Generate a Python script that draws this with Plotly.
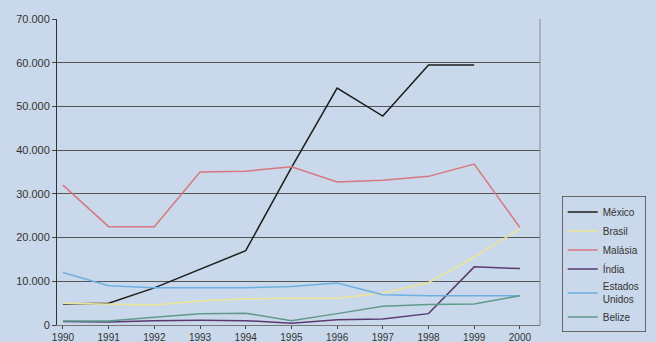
import plotly.graph_objects as go

years = [1990, 1991, 1992, 1993, 1994, 1995, 1996, 1997, 1998, 1999, 2000]
mexico = [4800, 5000, 8500, 12700, 17000, 36000, 54200, 47800, 59500, 59500, None]
brasil = [5000, 4800, 4600, 5500, 6000, 6100, 6100, 7300, 9700, 15500, 22000]
malasia = [32000, 22500, 22500, 35000, 35200, 36200, 32700, 33100, 34000, 36800, 22300]
india = [800, 700, 1000, 1100, 1000, 400, 1200, 1400, 2600, 13300, 12900]
eua = [12000, 9000, 8500, 8500, 8500, 8800, 9600, 6900, 6700, 6700, 6700]
belize = [900, 900, 1800, 2600, 2700, 1000, 2600, 4300, 4700, 4800, 6700]
y_ticks = [0, 10000, 20000, 30000, 40000, 50000, 60000, 70000]
y_labels = ["0", "10.000", "20.000", "30.000", "40.000", "50.000", "60.000", "70.000"]

series = [
    ("México", mexico, "#1e1e1e"),
    ("Brasil", brasil, "#ece596"),
    ("Malásia", malasia, "#d8787e"),
    ("Índia", india, "#5a3a6e"),
    ("Estados<br>Unidos", eua, "#6eb0e2"),
    ("Belize", belize, "#5f9a8c"),
]

fig = go.Figure()
for name, vals, col in series:
    fig.add_trace(go.Scatter(x=years, y=vals, name=name, mode="lines",
                             line=dict(color=col, width=1.5)))

fig.update_layout(
    width=656, height=342,
    margin=dict(l=57, r=116, t=19, b=17, autoexpand=False),
    paper_bgcolor="#c9d8ea",
    plot_bgcolor="#c9d8ea",
    font=dict(family="Liberation Sans, Arial", size=10, color="#333"),
    showlegend=True,
    legend=dict(x=1.045, y=0.42, xanchor="left", yanchor="top",
                bgcolor="#c9d8ea", bordercolor="#666", borderwidth=1,
                itemwidth=30,
                font=dict(size=10, color="#333"), tracegroupgap=0),
    xaxis=dict(range=[1989.87, 2000.44], tickvals=years,
               ticktext=[str(y) for y in years], showgrid=False,
               ticks="outside", ticklen=3, tickcolor="#444",
               showline=True, linecolor="#777", mirror=False, automargin=False,
               tickfont=dict(size=10, color="#333"), zeroline=False),
    yaxis=dict(range=[0, 70000], tickvals=y_ticks, ticktext=y_labels,
               showgrid=True, gridcolor="#555", gridwidth=1,
               ticks="outside", ticklen=4, tickcolor="#444", automargin=False,
               showline=True, linecolor="#333", zeroline=False,
               tickfont=dict(size=11, color="#333")),
)
fig.add_shape(type="line", xref="paper", yref="paper", x0=1, x1=1, y0=0, y1=1,
              line=dict(color="#888", width=1))
fig.write_html("out.html")
